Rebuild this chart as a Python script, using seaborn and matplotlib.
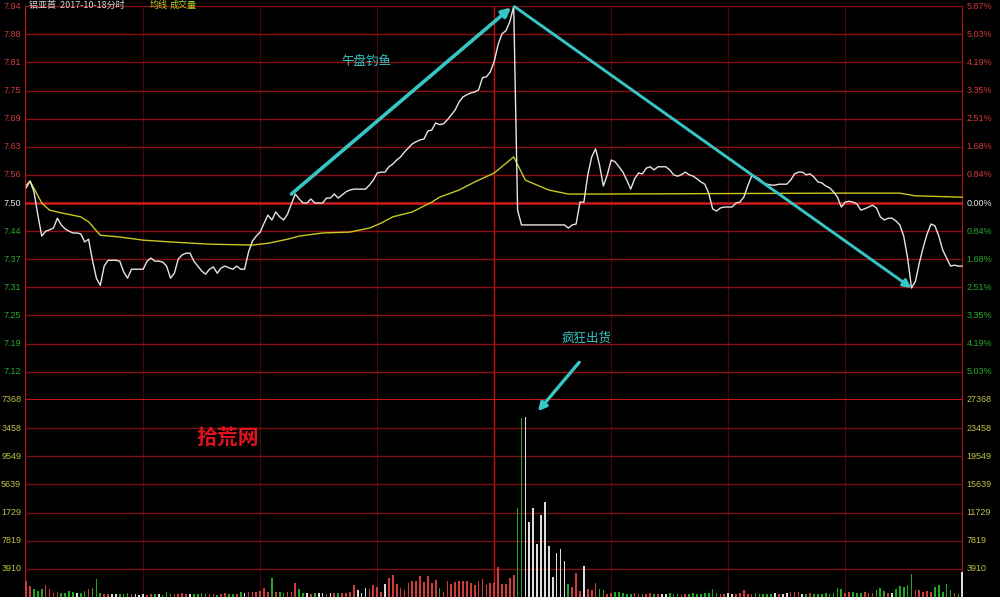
import numpy as np
import pandas as pd
import matplotlib
matplotlib.use("Agg")
import matplotlib.pyplot as plt
import matplotlib.transforms as mtransforms
import seaborn as sns

# ---------------- data ----------------
prev_close = 7.50
grid_pcts = [5.87, 5.03, 4.19, 3.35, 2.51, 1.68, 0.84, 0.00,
             -0.84, -1.68, -2.51, -3.35, -4.19, -5.03]
price_labels = ["7.94", "7.88", "7.81", "7.75", "7.69", "7.63", "7.56", "7.50",
                "7.44", "7.37", "7.31", "7.25", "7.19", "7.12"]
pct_labels = ["5.87%", "5.03%", "4.19%", "3.35%", "2.51%", "1.68%", "0.84%", "0.00%",
              "0.84%", "1.68%", "2.51%", "3.35%", "4.19%", "5.03%"]
vol_ticks = [27368, 23458, 19549, 15639, 11729, 7819, 3910]
vol_left_labels = ["7368", "3458", "9549", "5639", "1729", "7819", "3910"]
vol_right_labels = ["27368", "23458", "19549", "15639", "11729", "7819", "3910"]

price = [
    7.534, 7.549, 7.525, 7.473, 7.426, 7.437, 7.440, 7.444, 7.466, 7.451,
    7.442, 7.437, 7.433, 7.433, 7.431, 7.413, 7.419, 7.372, 7.332, 7.316,
    7.359, 7.372, 7.372, 7.372, 7.370, 7.346, 7.332, 7.352, 7.352, 7.352,
    7.352, 7.370, 7.377, 7.370, 7.370, 7.368, 7.359, 7.332, 7.343, 7.375,
    7.384, 7.388, 7.388, 7.370, 7.359, 7.348, 7.341, 7.352, 7.357, 7.343,
    7.355, 7.359, 7.355, 7.352, 7.359, 7.352, 7.352, 7.390, 7.415, 7.426,
    7.435, 7.455, 7.473, 7.462, 7.480, 7.469, 7.462, 7.475, 7.498, 7.520,
    7.509, 7.500, 7.500, 7.509, 7.500, 7.500, 7.500, 7.511, 7.511, 7.520,
    7.511, 7.518, 7.525, 7.529, 7.531, 7.531, 7.531, 7.531, 7.540, 7.551,
    7.567, 7.569, 7.569, 7.581, 7.587, 7.596, 7.603, 7.614, 7.623, 7.632,
    7.637, 7.641, 7.643, 7.661, 7.663, 7.679, 7.675, 7.677, 7.686, 7.697,
    7.708, 7.726, 7.737, 7.742, 7.746, 7.748, 7.753, 7.780, 7.782, 7.793,
    7.816, 7.854, 7.878, 7.885, 7.905, 7.939, 7.484, 7.451, 7.451, 7.451,
    7.451, 7.451, 7.451, 7.451, 7.451, 7.451, 7.451, 7.451, 7.451, 7.444,
    7.451, 7.453, 7.502, 7.502, 7.563, 7.603, 7.621, 7.585, 7.538, 7.563,
    7.596, 7.592, 7.581, 7.569, 7.551, 7.531, 7.554, 7.567, 7.565, 7.578,
    7.581, 7.574, 7.581, 7.581, 7.581, 7.574, 7.563, 7.560, 7.563, 7.569,
    7.563, 7.560, 7.554, 7.547, 7.542, 7.522, 7.487, 7.482, 7.489, 7.491,
    7.491, 7.491, 7.500, 7.502, 7.513, 7.538, 7.560, 7.558, 7.554, 7.545,
    7.542, 7.540, 7.540, 7.542, 7.542, 7.542, 7.551, 7.565, 7.569, 7.569,
    7.563, 7.565, 7.558, 7.547, 7.545, 7.538, 7.534, 7.525, 7.513, 7.491,
    7.502, 7.504, 7.502, 7.498, 7.484, 7.487, 7.491, 7.495, 7.489, 7.469,
    7.462, 7.466, 7.466, 7.460, 7.451, 7.426, 7.377, 7.310, 7.325, 7.366,
    7.401, 7.431, 7.453, 7.449, 7.426, 7.395, 7.377, 7.359, 7.361, 7.359, 7.359,
]

avg_minutes = [0, 1, 4, 6, 9, 14, 16, 19, 24, 30, 37, 47, 58, 62, 67, 70, 76, 83,
               88, 91, 94, 99, 104, 106, 111, 115, 120, 125, 128, 134, 139, 147,
               207, 224, 228, 240]
avg_price = [7.540, 7.549, 7.500, 7.484, 7.478, 7.469, 7.458, 7.428, 7.424, 7.417,
             7.413, 7.408, 7.406, 7.410, 7.419, 7.426, 7.433, 7.435, 7.444, 7.455,
             7.469, 7.480, 7.502, 7.513, 7.529, 7.547, 7.567, 7.603, 7.551, 7.529,
             7.520, 7.520, 7.522, 7.522, 7.516, 7.513]

volume = [
    2270, 1530, 1070, 880, 1070, 1620, 1070, 510, 740, 510,
    600, 880, 650, 510, 510, 880, 1070, 1200, 2500, 600,
    420, 350, 420, 380, 450, 400, 520, 380, 450, 300,
    350, 300, 400, 350, 450, 300, 740, 400, 450, 350,
    500, 420, 380, 450, 350, 500, 420, 450, 380, 300,
    400, 520, 350, 400, 450, 740, 600, 650, 740, 740,
    900, 1200, 740, 2690, 740, 740, 600, 740, 740, 1900,
    1070, 510, 500, 450, 520, 600, 500, 450, 600, 550,
    500, 600, 550, 650, 1720, 970, 600, 1300, 1070, 1670,
    1440, 740, 1810, 2600, 3100, 1810, 1200, 970, 1900, 2270,
    2270, 2970, 2130, 2920, 1990, 2360, 1200, 740, 2270, 1810,
    2130, 2220, 2270, 2270, 1990, 1670, 2270, 2460, 1670, 1990,
    1900, 4130, 1810, 1810, 2640, 3060, 12380, 24900, 25040, 10430,
    12380, 7370, 11410, 13210, 7090, 2800, 6100, 6650, 5030, 1810,
    1440, 3400, 880, 4250, 1070, 970, 1990, 1070, 970, 420,
    510, 740, 740, 600, 450, 380, 500, 420, 350, 450,
    500, 380, 420, 350, 450, 520, 400, 380, 450, 350,
    420, 500, 380, 450, 600, 520, 1160, 500, 450, 380,
    500, 420, 450, 600, 970, 450, 380, 500, 450, 420,
    380, 450, 500, 420, 450, 500, 740, 740, 740, 450,
    400, 500, 450, 420, 380, 500, 450, 520, 1300, 1070,
    510, 650, 740, 600, 510, 740, 510, 510, 970, 1200,
    830, 510, 510, 1070, 1530, 1350, 1620, 3150, 970, 970,
    740, 880, 740, 1440, 1620, 740, 1810, 970, 500, 400, 3430,
]

annot_rally_text = "午盘钓鱼"
annot_dump_text = "疯狂出货"
watermark_text = "拾荒网"
header_text = "铝亚首  2017-10-18分时"
header_avg = "均线"
header_vol = "成交量"

# ---------------- derived frames ----------------
minutes = np.arange(len(price))
prices = np.array(price)
prev = np.concatenate([[prev_close], prices[:-1]])
direction = np.where(prices > prev + 1e-9, "up", np.where(prices < prev - 1e-9, "down", "flat"))
df = pd.DataFrame({"minute": minutes, "price": prices, "volume": volume, "dir": direction})
df_avg = pd.DataFrame({"minute": avg_minutes, "avg": avg_price})

grid_prices = [prev_close * (1 + p / 100) for p in grid_pcts]
p_lo = prev_close * (1 - 5.87 / 100)
p_hi = prev_close * (1 + 5.87 / 100)

# ---------------- figure ----------------
sns.set_style("dark")
plt.rcParams["font.family"] = ["Liberation Sans", "Noto Sans CJK SC", "DejaVu Sans"]

W, H = 1000, 597
fig = plt.figure(figsize=(10, 5.97), dpi=100, facecolor="black")
x0, x1 = 25 / W, 963 / W
ax_p = fig.add_axes([x0, 1 - 400 / H, x1 - x0, 394 / H], facecolor="black")
ax_v = fig.add_axes([x0, 0, x1 - x0, 197 / H], facecolor="black")

XMIN, XMAX = -0.3, 240.2
GRID = "#8e0f0f"
BRIGHT = "#c41616"
DIM_V = "#4a0606"

for ax in (ax_p, ax_v):
    ax.grid(False)
    ax.set_xticks([])
    ax.set_yticks([])
    ax.set_xlabel("")
    ax.set_ylabel("")
    for s in ax.spines.values():
        s.set_visible(False)
    for m in range(30, 240, 30):
        ax.axvline(m, color=(BRIGHT if m == 120 else DIM_V), lw=(1.0 if m == 120 else 0.8), zorder=1)
    ax.axvline(XMIN, color=BRIGHT, lw=1.6, zorder=1)
    ax.axvline(XMAX, color=BRIGHT, lw=1.4, zorder=1)

# price panel grid
for gp, pct in zip(grid_prices, grid_pcts):
    if pct == 0:
        ax_p.axhline(gp, color="#d01c1c", lw=1.8, zorder=1)
    else:
        ax_p.axhline(gp, color=GRID, lw=1.0, zorder=1)
ax_p.axhline(p_lo, color=BRIGHT, lw=1.5, zorder=1)

sns.lineplot(data=df_avg, x="minute", y="avg", color="#c8c820", lw=1.0, ax=ax_p, zorder=3)
sns.lineplot(data=df, x="minute", y="price", color="#e4e4e4", lw=1.0, ax=ax_p, zorder=4)
ax_p.set_xlim(XMIN, XMAX)
ax_p.set_ylim(p_lo, p_hi)
ax_p.set_xlabel("")
ax_p.set_ylabel("")

# volume panel
for vt in vol_ticks[1:]:
    ax_v.axhline(vt, color="#7a1010", lw=1.0, zorder=1)
sns.barplot(data=df, x="minute", y="volume", hue="dir", native_scale=True,
            palette={"up": "#d03c3c", "down": "#22a822", "flat": "#dcdcdc"},
            dodge=False, width=0.42, errorbar=None, legend=False,
            saturation=1, linewidth=0, ax=ax_v, zorder=3)
ax_v.set_xlim(XMIN, XMAX)
ax_v.set_ylim(0, vol_ticks[0])
ax_v.set_xticks([])
ax_v.set_yticks([])
ax_v.set_xlabel("")
ax_v.set_ylabel("")

# ---------------- axis labels ----------------
UPC, DNC, FLC, VOLC = "#d23c3c", "#2aaa2a", "#e6e6e6", "#c0c048"
bl_p = mtransforms.blended_transform_factory(ax_p.transAxes, ax_p.transData)
bl_v = mtransforms.blended_transform_factory(ax_v.transAxes, ax_v.transData)
for gp, pct, lab, plab in zip(grid_prices, grid_pcts, price_labels, pct_labels):
    col = UPC if pct > 0 else (DNC if pct < 0 else FLC)
    ax_p.text(-0.004, gp, lab, transform=bl_p, ha="right", va="center",
              fontsize=6.5, color=col, clip_on=False)
    ax_p.text(1.004, gp, plab, transform=bl_p, ha="left", va="center",
              fontsize=6.5, color=col, clip_on=False)
for vt, ll, rl in zip(vol_ticks, vol_left_labels, vol_right_labels):
    ax_v.text(-0.004, vt, ll, transform=bl_v, ha="right", va="center",
              fontsize=6.5, color=VOLC, clip_on=False)
    ax_v.text(1.004, vt, rl, transform=bl_v, ha="left", va="center",
              fontsize=6.5, color=VOLC, clip_on=False)

# header at the very top
HF = ["Noto Sans CJK SC", "DejaVu Sans"]
fig.text(0.029, 0.999, header_text, color="#d8d8d8", fontsize=6.5, va="top", ha="left", family=HF)
fig.text(0.150, 0.999, header_avg, color="#c8c820", fontsize=6.5, va="top", ha="left", family=HF)
fig.text(0.170, 0.999, header_vol, color="#a8d020", fontsize=6.5, va="top", ha="left", family=HF)

# ---------------- annotations ----------------
CY = "#36c6c6"
peak = int(np.argmax(prices))
trough = peak + int(np.argmin(prices[peak:]))
vpeak = int(np.argmax(volume))
rally_start = 68

ax_p.annotate("", xy=(minutes[peak] - 0.4, prices[peak]),
              xytext=(rally_start, prices[rally_start + 1]),
              arrowprops=dict(arrowstyle="-|>", color=CY, lw=2.6, mutation_scale=13,
                              shrinkA=0, shrinkB=1), zorder=6)
ax_p.annotate("", xy=(minutes[trough], prices[trough]),
              xytext=(minutes[peak] + 0.2, prices[peak]),
              arrowprops=dict(arrowstyle="-|>", color=CY, lw=2.1, mutation_scale=12,
                              shrinkA=0, shrinkB=0), zorder=6)
ax_p.text(87.2, 7.816, annot_rally_text, color=CY, fontsize=9, ha="center", va="center",
          family=HF, zorder=6)
ax_p.text(143.6, 7.198, annot_dump_text, color=CY, fontsize=9, ha="center", va="center",
          family=HF, zorder=6)
ax_v.annotate("", xy=(minutes[vpeak] + 3.2, volume[vpeak] * 1.03),
              xycoords=ax_v.transData,
              xytext=(141.8, 7.144), textcoords=ax_p.transData,
              arrowprops=dict(arrowstyle="-|>", color=CY, lw=2.4, mutation_scale=12,
                              shrinkA=0, shrinkB=0), zorder=6, annotation_clip=False)

# watermark
fig.text(0.228, 1 - 438 / H, watermark_text, color="#e0141e", fontsize=15,
         fontweight="bold", style="italic", ha="center", va="center",
         family=HF, zorder=10)

fig.savefig("out.png", dpi=100, facecolor="black")
